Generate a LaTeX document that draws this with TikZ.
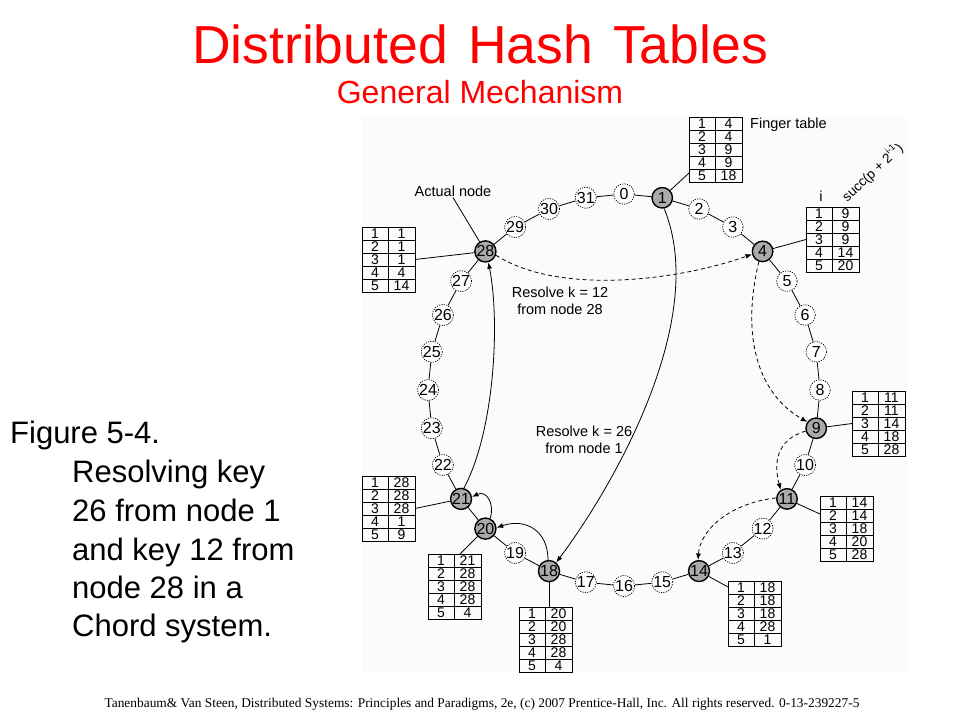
\documentclass[tikz,border=0pt]{standalone}
\usepackage{fontspec}
\setmainfont{Liberation Sans}
\newfontfamily\footfont{Liberation Serif}
\usetikzlibrary{arrows.meta,calc}
\definecolor{titlered}{RGB}{255,0,0}
\definecolor{nodegray}{RGB}{170,170,170}
\definecolor{figbg}{RGB}{251,251,251}
\tikzset{
  ringline/.style={line width=0.8pt},
  freenode/.style={circle, draw, line width=0.7pt, dash pattern=on 1.2pt off 1.2pt, fill=white,
    minimum size=20.5pt, inner sep=0pt, font=\fontsize{16}{16}\selectfont},
  usednode/.style={circle, draw, line width=1.4pt, fill=nodegray,
    minimum size=20.5pt, inner sep=0pt, font=\fontsize{16}{16}\selectfont},
  tabbox/.style={draw, line width=0.8pt, anchor=north west, minimum width=53pt,
    minimum height=65pt, inner sep=0pt, outer sep=0pt},
  tabline/.style={line width=0.8pt},
  tabtext/.style={inner sep=0pt, font=\fontsize{14}{14}\selectfont},
  lbl/.style={inner sep=1pt, font=\fontsize{14.5}{17}\selectfont},
  arr/.style={-{Latex[length=6.5pt,width=5pt]}, line width=0.8pt},
  darr/.style={arr, dash pattern=on 4pt off 3pt},
  figtxt/.style={anchor=base west, inner sep=0pt, font=\fontsize{31}{36}\selectfont},
}
\newcommand\ftable[8]{%
  \begin{scope}[shift={(#2,#3)}]
    \node[tabbox] (#1) at (0,0) {};
    \draw[tabline] (26,0) -- (26,65);
    \foreach \r in {1,...,4}{\draw[tabline] (0,\r*13) -- (53,\r*13);}
    \foreach \v [count=\i] in {#4,#5,#6,#7,#8}{
      \node[tabtext] (#1-i\i) at (13,\i*13-6.3) {\i};
      \node[tabtext] (#1-v\i) at (39.5,\i*13-6.3) {\v};}
  \end{scope}}
\begin{document}
\begin{tikzpicture}[x=1pt,y=-1pt]
\fill[white] (0,0) rectangle (960,720);
\useasboundingbox (0,0) rectangle (960,720);
\fill[figbg] (362,117) rectangle (907,672);

% titles
\node[anchor=base, inner sep=0pt, text=titlered, font=\fontsize{53.5}{60}\selectfont] (title) at (480,63) {Distributed\hspace{0.1em} Hash\hspace{0.1em} Tables};
\node[anchor=base, inner sep=0pt, text=titlered, font=\fontsize{32}{38}\selectfont] (subtitle) at (480,103) {General Mechanism};

% left caption
\node[figtxt] (f1) at (10,443) {Figure 5-4.};
\node[figtxt] (f2) at (72,482) {Resolving key};
\node[figtxt] (f3) at (72,521) {26 from node 1};
\node[figtxt] (f4) at (72,560) {and key 12 from};
\node[figtxt] (f5) at (72,598) {node 28 in a};
\node[figtxt] (f6) at (72,636) {Chord system.};

% footer
\node[anchor=base, inner sep=0pt, font=\footfont\fontsize{13.4}{15}\selectfont] (foot) at (482,707) {Tanenbaum\& Van Steen, Distributed Systems: Principles and Paradigms, 2e, (c) 2007 Prentice-Hall, Inc. All rights reserved. 0-13-239227-5};

% ring positions
\foreach \k in {0,...,31}{
  \coordinate (p\k) at ({624+196*sin(\k*11.25)},{390-196*cos(\k*11.25)});
}
\foreach \k in {0,2,3,5,6,7,8,10,12,13,15,16,17,19,22,23,24,25,26,27,29,30,31}{
  \node[freenode] (n\k) at (p\k) {\k};
}
\foreach \k in {1,4,9,11,14,18,20,21,28}{
  \node[usednode] (n\k) at (p\k) {\k};
}
\foreach \k in {0,...,31}{
  \pgfmathtruncatemacro\nn{mod(\k+1,32)}
  \draw[ringline] (n\k) -- (n\nn);
}

% finger tables
\ftable{T1}{689}{117}{4}{4}{9}{9}{18}
\ftable{T4}{806}{207}{9}{9}{9}{14}{20}
\ftable{T9}{852}{391}{11}{11}{14}{18}{28}
\ftable{T11}{820}{496}{14}{14}{18}{20}{28}
\ftable{T14}{728}{581}{18}{18}{18}{28}{1}
\ftable{T18}{519}{607}{20}{20}{28}{28}{4}
\ftable{T20}{428}{554}{21}{28}{28}{28}{4}
\ftable{T21}{362}{476}{28}{28}{28}{1}{9}
\ftable{T28}{362}{227}{1}{1}{1}{4}{14}

\draw[ringline] (n1) -- ($(T1.north west)+(0,56)$);
\draw[ringline] (n4) -- (T4.west);
\draw[ringline] (n9) -- (T9.west);
\draw[ringline] (n11) -- ($(T11.north west)+(0,18)$);
\draw[ringline] (n14) -- ($(T14.north west)+(0,6)$);
\draw[ringline] (n18) -- (n18 |- T18.north);
\draw[ringline] (n20) -- ($(T20.north west)+(32,0)$);
\draw[ringline] (n21) -- (T21.east);
\draw[ringline] (n28) -- (T28.east);

% labels
\node[lbl] (actual) at (453,191) {Actual node};
\draw[ringline] (actual.south) -- (n28);
\node[lbl, anchor=west] (fingerlbl) at (749,125) {Finger table};
\node[lbl] (ilbl) at (821,196) {i};
\node[lbl, rotate=43, font=\fontsize{13.5}{15}\selectfont] (succlbl) at (872,172) {succ(p + 2\raisebox{0.5em}{\fontsize{9}{9}\selectfont i-1})};
\node[lbl, align=center] (res12) at (560,301) {Resolve k = 12\\from node 28};
\node[lbl, align=center] (res26) at (584,440) {Resolve k = 26\\from node 1};

% solid lookup arrows (k = 26 from node 1)
\draw[arr] (n1.-80) .. controls (710,320) and (612,488) .. (n18.50);
\draw[arr] (n18.95) .. controls (548,530) and (525,518) .. (n20.5);
\draw[arr] (n20.65) .. controls (495,503) and (486,490) .. (n21.10);
\draw[arr] (n21.75) .. controls (495,430) and (500,320) .. (n28.-75);

% dashed lookup arrows (k = 12 from node 28)
\draw[darr] (n28.-20) .. controls (560,296) and (680,280) .. (n4.-165);
\draw[darr] (n4.-110) .. controls (740,340) and (760,395) .. (n9.145);
\draw[darr] (n9.-165) .. controls (775,440) and (774,465) .. (n11.125);
\draw[darr] (n11.175) .. controls (730,503) and (700,530) .. (n14.95);
\end{tikzpicture}
\end{document}
